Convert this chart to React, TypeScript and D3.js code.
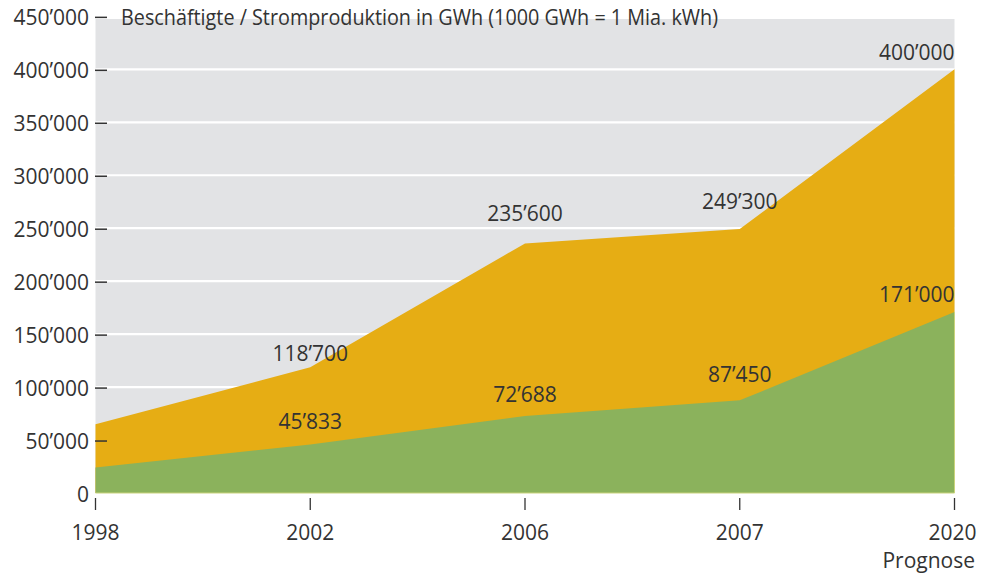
import React from "react";
import * as d3 from "d3";

const years = ["1998", "2002", "2006", "2007", "2020"];
const totalValues = [65000, 118700, 235600, 249300, 400000];
const greenValues = [24000, 45833, 72688, 87450, 171000];
const totalLabels = ["", "118’700", "235’600", "249’300", "400’000"];
const greenLabels = ["", "45’833", "72’688", "87’450", "171’000"];
const yTicks = [0, 50000, 100000, 150000, 200000, 250000, 300000, 350000, 400000, 450000];
const yTickLabels = ["0", "50’000", "100’000", "150’000", "200’000", "250’000", "300’000", "350’000", "400’000", "450’000"];
const title = "Beschäftigte / Stromproduktion in GWh (1000 GWh = 1 Mia. kWh)";
const subLabel = "Prognose";

// layout-only constants (label lift above the point, in px)
const totalLabelLift = [0, 6, 22, 20, 9];
const greenLabelLift = [0, 15, 14, 18, 10];

const W = 990;
const H = 574;
const left = 95.5;
const right = 954.5;
const top = 19;
const bottom = 493;
const FONT = "'Open Sans', sans-serif";
const TXT = "#333333";

export default function App() {
  const x = d3.scalePoint<string>().domain(years).range([left, right]);
  const y = d3.scaleLinear().domain([0, 450000]).range([bottom, bottom - 9 * 52.96]);

  const area = (vals: number[]) =>
    d3
      .area<number>()
      .x((_, i) => x(years[i]) as number)
      .y0(y(0))
      .y1((d) => y(d))(vals) as string;

  const last = years.length - 1;

  return (
    <svg
      width={W}
      height={H}
      style={{ position: "absolute", left: 0, top: 0, display: "block", background: "#fff" }}
      fontFamily={FONT}
    >
      <rect x={left} y={top} width={right - left} height={bottom - top} fill="#e2e3e5" />
      {yTicks.slice(1, -1).map((t) => (
        <line key={t} x1={left} x2={right} y1={y(t)} y2={y(t)} stroke="#ffffff" strokeWidth={2.2} />
      ))}
      <path d={area(totalValues)} fill="#e6ad14" />
      <path d={area(greenValues)} fill="#8bb25c" />
      <line x1={left} x2={right} y1={bottom} y2={bottom} stroke="#c9d37c" strokeWidth={1} />
      <line x1={right} x2={right} y1={y(greenValues[last])} y2={bottom} stroke="#c9d37c" strokeWidth={1} />

      {yTicks.map((t, i) => (
        <g key={t}>
          <text x={89} y={y(t) + 8.5} textAnchor="end" fontSize={21} fill={TXT}>
            {yTickLabels[i]}
          </text>
          {t > 0 && <line x1={95} x2={107} y1={y(t) + 1} y2={y(t) + 1} stroke={TXT} strokeWidth={1.5} />}
        </g>
      ))}

      <text x={121} y={25} fontSize={21} fill={TXT} textLength={597} lengthAdjust="spacingAndGlyphs">
        {title}
      </text>

      {years.map((yr, i) => (
        <g key={yr}>
          <line x1={x(yr)} x2={x(yr)} y1={498} y2={510} stroke={TXT} strokeWidth={1.3} />
          <text
            x={i === last ? (x(yr) as number) - 2 : (x(yr) as number)}
            y={540}
            textAnchor="middle"
            fontSize={21}
            fill={TXT}
          >
            {yr}
          </text>
        </g>
      ))}
      <text x={975} y={568} textAnchor="end" fontSize={21} fill={TXT}>
        {subLabel}
      </text>

      {totalLabels.map((lab, i) =>
        lab ? (
          <text
            key={"t" + i}
            x={x(years[i])}
            y={y(totalValues[i]) - totalLabelLift[i]}
            textAnchor={i === last ? "end" : "middle"}
            fontSize={21}
            fill={TXT}
          >
            {lab}
          </text>
        ) : null
      )}
      {greenLabels.map((lab, i) =>
        lab ? (
          <text
            key={"g" + i}
            x={x(years[i])}
            y={y(greenValues[i]) - greenLabelLift[i]}
            textAnchor={i === last ? "end" : "middle"}
            fontSize={21}
            fill={TXT}
          >
            {lab}
          </text>
        ) : null
      )}
    </svg>
  );
}
